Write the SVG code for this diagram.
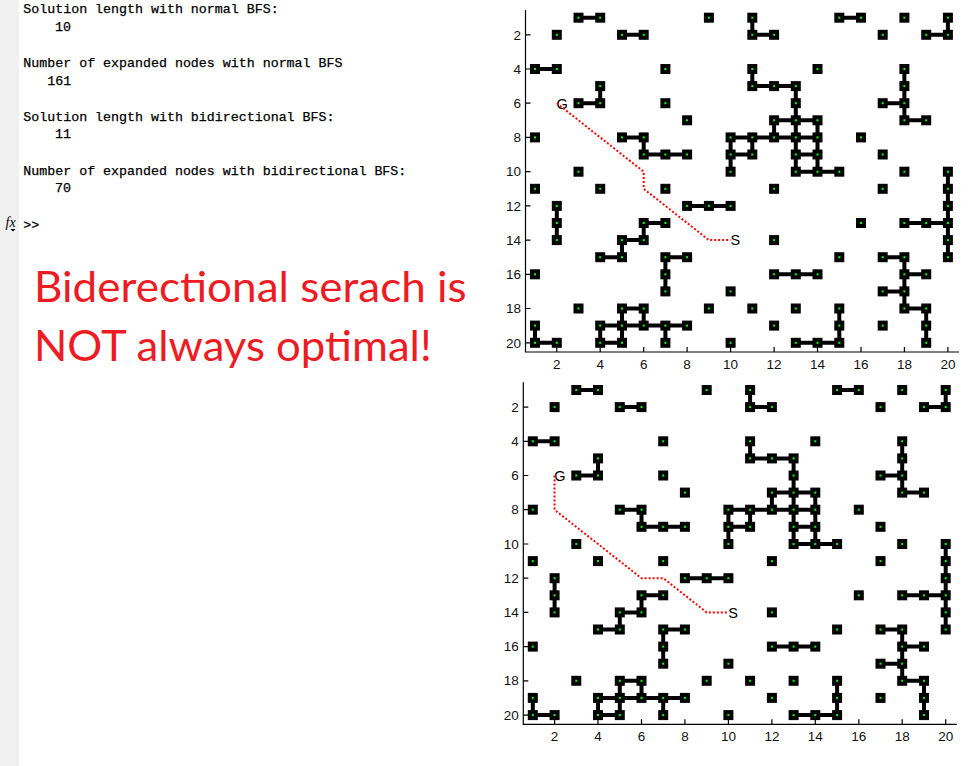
<svg xmlns="http://www.w3.org/2000/svg" xmlns:xlink="http://www.w3.org/1999/xlink" width="978" height="766" viewBox="0 0 978 766">
<style>
.mono{font-family:"Liberation Mono","DejaVu Sans Mono",monospace;font-size:13.3px;fill:#000;stroke:#000;stroke-width:0.25}
.tick{font-family:"Liberation Sans",Arial,sans-serif;font-size:13.5px;fill:#111}
.ylab{text-anchor:end}
.xlab{text-anchor:middle}
.axis{stroke:#000;stroke-width:1.2;fill:none}
.edge{stroke:#000;stroke-width:4;fill:none}
.sol{stroke:#ff0000;stroke-width:2;stroke-dasharray:2 2;fill:none}
.gs{font-family:"Liberation Sans",Arial,sans-serif;font-size:14.5px;fill:#000}
.big{font-family:Lato,"Open Sans",sans-serif;font-size:42.5px;fill:#ed1c24}
</style>
<defs>
<g id="sq"><rect x="-5" y="-5" width="10" height="10" fill="#000"/><rect x="-1" y="-1" width="2" height="2" fill="#00ff00"/></g>
<g id="plotBase">
<path class="axis" d="M525.5 10V352H959"/>
<path class="axis" d="M525.5 34.8h5M525.5 69h5M525.5 103.2h5M525.5 137.4h5M525.5 171.7h5M525.5 205.9h5M525.5 240.1h5M525.5 274.3h5M525.5 308.5h5M525.5 342.8h5M556.8 352v-5M600.2 352v-5M643.7 352v-5M687.1 352v-5M730.6 352v-5M774.1 352v-5M817.5 352v-5M861 352v-5M904.4 352v-5M947.9 352v-5"/>
<g class="tick ylab">
<text x="521" y="39.5">2</text><text x="521" y="73.7">4</text><text x="521" y="107.9">6</text><text x="521" y="142.1">8</text><text x="521" y="176.4">10</text><text x="521" y="210.6">12</text><text x="521" y="244.8">14</text><text x="521" y="279">16</text><text x="521" y="313.2">18</text><text x="521" y="347.5">20</text>
</g>
<g class="tick xlab">
<text x="556.8" y="368.5">2</text><text x="600.2" y="368.5">4</text><text x="643.7" y="368.5">6</text><text x="687.1" y="368.5">8</text><text x="730.6" y="368.5">10</text><text x="774.1" y="368.5">12</text><text x="817.5" y="368.5">14</text><text x="861" y="368.5">16</text><text x="904.4" y="368.5">18</text><text x="947.9" y="368.5">20</text>
</g>
<path class="edge" d="M578.5 17.7H600.2M839.3 17.7H861M622 34.8H643.7M752.3 34.8H774.1M926.2 34.8H947.9M535 69H556.8M752.3 86.1H795.8M578.5 103.2H600.2M882.7 103.2H904.4M774.1 120.3H817.5M904.4 120.3H926.2M622 137.4H643.7M730.6 137.4H817.5M643.7 154.5H687.1M730.6 154.5H752.3M795.8 154.5H817.5M795.8 171.7H839.3M687.1 205.9H730.6M643.7 223H665.4M904.4 223H947.9M622 240.1H643.7M600.2 257.2H622M665.4 257.2H687.1M882.7 257.2H904.4M774.1 274.3H817.5M904.4 274.3H926.2M882.7 291.4H904.4M622 308.5H643.7M904.4 308.5H926.2M600.2 325.6H687.1M535 342.8H556.8M600.2 342.8H622M795.8 342.8H839.3M752.3 17.7V34.8M752.3 69V86.1M752.3 137.4V154.5M947.9 17.7V34.8M947.9 171.7V257.2M600.2 86.1V103.2M904.4 69V120.3M904.4 257.2V308.5M795.8 86.1V171.7M774.1 120.3V137.4M817.5 120.3V171.7M643.7 137.4V154.5M643.7 223V240.1M643.7 308.5V325.6M730.6 137.4V171.7M556.8 205.9V240.1M622 240.1V257.2M622 308.5V342.8M600.2 325.6V342.8M665.4 257.2V291.4M665.4 325.6V342.8M535 325.6V342.8M839.3 308.5V342.8M926.2 308.5V342.8"/>
<g>
<use href="#sq" x="578.5" y="17.7"/><use href="#sq" x="600.2" y="17.7"/><use href="#sq" x="708.9" y="17.7"/><use href="#sq" x="752.3" y="17.7"/><use href="#sq" x="839.3" y="17.7"/><use href="#sq" x="861" y="17.7"/><use href="#sq" x="904.4" y="17.7"/><use href="#sq" x="947.9" y="17.7"/>
<use href="#sq" x="556.8" y="34.8"/><use href="#sq" x="622" y="34.8"/><use href="#sq" x="643.7" y="34.8"/><use href="#sq" x="752.3" y="34.8"/><use href="#sq" x="774.1" y="34.8"/><use href="#sq" x="882.7" y="34.8"/><use href="#sq" x="926.2" y="34.8"/><use href="#sq" x="947.9" y="34.8"/>
<use href="#sq" x="535" y="69"/><use href="#sq" x="556.8" y="69"/><use href="#sq" x="665.4" y="69"/><use href="#sq" x="752.3" y="69"/><use href="#sq" x="817.5" y="69"/><use href="#sq" x="904.4" y="69"/>
<use href="#sq" x="600.2" y="86.1"/><use href="#sq" x="752.3" y="86.1"/><use href="#sq" x="774.1" y="86.1"/><use href="#sq" x="795.8" y="86.1"/><use href="#sq" x="904.4" y="86.1"/>
<use href="#sq" x="578.5" y="103.2"/><use href="#sq" x="600.2" y="103.2"/><use href="#sq" x="665.4" y="103.2"/><use href="#sq" x="795.8" y="103.2"/><use href="#sq" x="882.7" y="103.2"/><use href="#sq" x="904.4" y="103.2"/>
<use href="#sq" x="687.1" y="120.3"/><use href="#sq" x="774.1" y="120.3"/><use href="#sq" x="795.8" y="120.3"/><use href="#sq" x="817.5" y="120.3"/><use href="#sq" x="904.4" y="120.3"/><use href="#sq" x="926.2" y="120.3"/>
<use href="#sq" x="535" y="137.4"/><use href="#sq" x="622" y="137.4"/><use href="#sq" x="643.7" y="137.4"/><use href="#sq" x="730.6" y="137.4"/><use href="#sq" x="752.3" y="137.4"/><use href="#sq" x="774.1" y="137.4"/><use href="#sq" x="795.8" y="137.4"/><use href="#sq" x="817.5" y="137.4"/><use href="#sq" x="861" y="137.4"/>
<use href="#sq" x="643.7" y="154.5"/><use href="#sq" x="665.4" y="154.5"/><use href="#sq" x="687.1" y="154.5"/><use href="#sq" x="730.6" y="154.5"/><use href="#sq" x="752.3" y="154.5"/><use href="#sq" x="795.8" y="154.5"/><use href="#sq" x="817.5" y="154.5"/><use href="#sq" x="882.7" y="154.5"/>
<use href="#sq" x="578.5" y="171.7"/><use href="#sq" x="730.6" y="171.7"/><use href="#sq" x="795.8" y="171.7"/><use href="#sq" x="817.5" y="171.7"/><use href="#sq" x="839.3" y="171.7"/><use href="#sq" x="904.4" y="171.7"/><use href="#sq" x="947.9" y="171.7"/>
<use href="#sq" x="535" y="188.8"/><use href="#sq" x="600.2" y="188.8"/><use href="#sq" x="665.4" y="188.8"/><use href="#sq" x="774.1" y="188.8"/><use href="#sq" x="882.7" y="188.8"/><use href="#sq" x="947.9" y="188.8"/>
<use href="#sq" x="556.8" y="205.9"/><use href="#sq" x="687.1" y="205.9"/><use href="#sq" x="708.9" y="205.9"/><use href="#sq" x="730.6" y="205.9"/><use href="#sq" x="947.9" y="205.9"/>
<use href="#sq" x="556.8" y="223"/><use href="#sq" x="643.7" y="223"/><use href="#sq" x="665.4" y="223"/><use href="#sq" x="861" y="223"/><use href="#sq" x="904.4" y="223"/><use href="#sq" x="926.2" y="223"/><use href="#sq" x="947.9" y="223"/>
<use href="#sq" x="556.8" y="240.1"/><use href="#sq" x="622" y="240.1"/><use href="#sq" x="643.7" y="240.1"/><use href="#sq" x="774.1" y="240.1"/><use href="#sq" x="947.9" y="240.1"/>
<use href="#sq" x="600.2" y="257.2"/><use href="#sq" x="622" y="257.2"/><use href="#sq" x="665.4" y="257.2"/><use href="#sq" x="687.1" y="257.2"/><use href="#sq" x="839.3" y="257.2"/><use href="#sq" x="882.7" y="257.2"/><use href="#sq" x="904.4" y="257.2"/><use href="#sq" x="947.9" y="257.2"/>
<use href="#sq" x="535" y="274.3"/><use href="#sq" x="665.4" y="274.3"/><use href="#sq" x="774.1" y="274.3"/><use href="#sq" x="795.8" y="274.3"/><use href="#sq" x="817.5" y="274.3"/><use href="#sq" x="904.4" y="274.3"/><use href="#sq" x="926.2" y="274.3"/>
<use href="#sq" x="665.4" y="291.4"/><use href="#sq" x="730.6" y="291.4"/><use href="#sq" x="882.7" y="291.4"/><use href="#sq" x="904.4" y="291.4"/>
<use href="#sq" x="578.5" y="308.5"/><use href="#sq" x="622" y="308.5"/><use href="#sq" x="643.7" y="308.5"/><use href="#sq" x="708.9" y="308.5"/><use href="#sq" x="752.3" y="308.5"/><use href="#sq" x="795.8" y="308.5"/><use href="#sq" x="839.3" y="308.5"/><use href="#sq" x="904.4" y="308.5"/><use href="#sq" x="926.2" y="308.5"/>
<use href="#sq" x="535" y="325.6"/><use href="#sq" x="600.2" y="325.6"/><use href="#sq" x="622" y="325.6"/><use href="#sq" x="643.7" y="325.6"/><use href="#sq" x="665.4" y="325.6"/><use href="#sq" x="687.1" y="325.6"/><use href="#sq" x="774.1" y="325.6"/><use href="#sq" x="839.3" y="325.6"/><use href="#sq" x="882.7" y="325.6"/><use href="#sq" x="926.2" y="325.6"/>
<use href="#sq" x="535" y="342.8"/><use href="#sq" x="556.8" y="342.8"/><use href="#sq" x="600.2" y="342.8"/><use href="#sq" x="622" y="342.8"/><use href="#sq" x="665.4" y="342.8"/><use href="#sq" x="730.6" y="342.8"/><use href="#sq" x="795.8" y="342.8"/><use href="#sq" x="817.5" y="342.8"/><use href="#sq" x="839.3" y="342.8"/><use href="#sq" x="926.2" y="342.8"/>
</g>
<text class="gs" x="556.5" y="109">G</text>
<text class="gs" x="730.5" y="245.3">S</text>
</g>
</defs>
<rect x="0" y="0" width="978" height="766" fill="#fff"/>
<g id="console">
<rect x="0" y="0" width="19" height="766" fill="#f0f0f0"/>
<text class="mono" x="23.3" y="13">Solution length with normal BFS:</text>
<text class="mono" x="55" y="31">10</text>
<text class="mono" x="23.3" y="66.7">Number of expanded nodes with normal BFS</text>
<text class="mono" x="47.3" y="84.5">161</text>
<text class="mono" x="23.3" y="120.5">Solution length with bidirectional BFS:</text>
<text class="mono" x="55" y="138.3">11</text>
<text class="mono" x="23.3" y="174.5">Number of expanded nodes with bidirectional BFS:</text>
<text class="mono" x="55" y="192.3">70</text>
<text x="5.5" y="227" font-family="Liberation Serif,serif" font-style="italic" font-size="14" fill="#000">fx</text>
<polygon points="10.5,229 15.5,229 13,231.5" fill="#000"/>
<text class="mono" x="23.3" y="228.5">&gt;&gt;</text>
</g>
<g id="note">
<text class="big" x="34" y="301.7" textLength="432.7" lengthAdjust="spacingAndGlyphs">Biderectional serach is</text>
<text class="big" x="34" y="361" textLength="397.7" lengthAdjust="spacingAndGlyphs">NOT always optimal!</text>
</g>
<g id="plot-normal">
<use href="#plotBase"/>
<path class="sol" d="M556.8 103.2L643.7 171.7L643.7 188.8L708.9 240.1L730.6 240.1"/>
</g>
<g id="plot-bidirectional">
<use href="#plotBase" transform="translate(-2.2,372.3)"/>
<path class="sol" d="M554.5 475.6L554.5 509.8L641.5 578.2L663.2 578.2L706.7 612.4L728.5 612.4"/>
</g>
</svg>
